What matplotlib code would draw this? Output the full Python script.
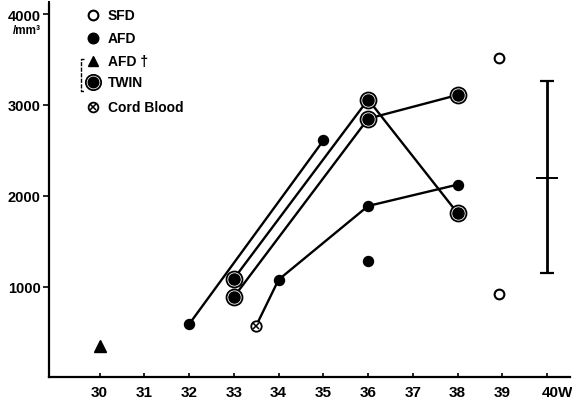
import matplotlib
matplotlib.use("Agg")
import matplotlib.pyplot as plt
from matplotlib.transforms import ScaledTranslation

# ---- data ----
twin1_weeks = [33, 36, 38]
twin1_vals = [1090, 3060, 1810]
twin2_weeks = [33, 36, 38]
twin2_vals = [890, 2850, 3110]
afd_line_weeks = [32, 35]
afd_line_vals = [590, 2610]
chain_weeks = [33.5, 34, 36, 38]          # cord blood -> AFD
chain_vals = [575, 1080, 1890, 2125]
cord_weeks = [33.5]
cord_vals = [575]
afd_single_weeks = [36]
afd_single_vals = [1290]
afd_dead_weeks = [30]
afd_dead_vals = [350]
sfd_weeks = [38.93, 38.93]
sfd_vals = [3515, 925]
range_week = 40
range_mean = 2195
range_low = 1155
range_high = 3260

x_ticks = [30, 31, 32, 33, 34, 35, 36, 37, 38, 39, 40]
x_labels = ["30", "31", "32", "33", "34", "35", "36", "37", "38", "39", "40W"]
y_ticks = [1000, 2000, 3000, 4000]
y_labels = ["1000", "2000", "3000", "4000"]
legend_labels = ["SFD", "AFD", "AFD \u2020", "TWIN", "Cord Blood"]

plt.rcParams['font.family'] = ['Liberation Sans', 'DejaVu Sans']

fig = plt.figure(figsize=(5.72, 4.02), dpi=100)
ax = fig.add_axes([49/572, 1 - 378/402, 521/572, 373/402])
ax.set_xlim(28.87, 40.51)
ax.set_ylim(10, 4110)

lw = 1.7
k = 'black'
# lines
ax.plot(afd_line_weeks, afd_line_vals, color=k, lw=lw, zorder=2)
ax.plot(chain_weeks, chain_vals, color=k, lw=lw, zorder=2)
ax.plot(twin1_weeks, twin1_vals, color=k, lw=lw, zorder=2)
ax.plot(twin2_weeks, twin2_vals, color=k, lw=lw, zorder=2)

# AFD filled circles
afd_x = afd_line_weeks + chain_weeks[1:] + afd_single_weeks
afd_y = afd_line_vals + chain_vals[1:] + afd_single_vals
ax.plot(afd_x, afd_y, 'o', ms=7.2, color=k, mec=k, zorder=4, linestyle='none')

# TWIN double circles
for wx, wy in [(twin1_weeks, twin1_vals), (twin2_weeks, twin2_vals)]:
    ax.plot(wx, wy, 'o', ms=11.5, mfc='white', mec=k, mew=1.3, zorder=5, linestyle='none')
    ax.plot(wx, wy, 'o', ms=8.0, mfc=k, mec=k, zorder=6, linestyle='none')

# cord blood
ax.plot(cord_weeks, cord_vals, 'o', ms=7.5, mfc='white', mec=k, mew=1.3, zorder=5, linestyle='none')
ax.plot(cord_weeks, cord_vals, 'x', ms=4.2, color=k, mew=1.1, zorder=6, linestyle='none')

# AFD dead
ax.plot(afd_dead_weeks, afd_dead_vals, '^', ms=8, color=k, zorder=4, linestyle='none')

# SFD open circles
ax.plot(sfd_weeks, sfd_vals, 'o', ms=7, mfc='white', mec=k, mew=1.5, zorder=4, linestyle='none')

# range bar at 40W
ax.errorbar([range_week], [range_mean],
            yerr=[[range_mean - range_low], [range_high - range_mean]],
            fmt='none', ecolor=k, elinewidth=2.0, capsize=4.8, capthick=1.6, zorder=3)
ax.plot([range_week], [range_mean], '_', ms=16, mew=1.4, color=k, zorder=3)

# axes styling
for s in ['top', 'right']:
    ax.spines[s].set_visible(False)
ax.spines['left'].set_linewidth(1.6)
ax.spines['bottom'].set_linewidth(1.6)
ax.set_xticks(x_ticks)
ax.set_xticklabels(x_labels, fontsize=11, fontweight='bold')
ax.set_yticks(y_ticks)
ax.set_yticklabels(y_labels, fontsize=10.5, fontweight='bold')
ax.tick_params(axis='x', direction='in', length=3, width=1.2, pad=6)
ax.tick_params(axis='y', direction='out', length=4.5, width=1.2, pad=1.5)
lab = ax.get_xticklabels()[-1]
lab.set_transform(lab.get_transform() + ScaledTranslation(10/100, 0, fig.dpi_scale_trans))

# small mark at top of the y axis
ax.plot([0], [1], marker='|', ms=5, mew=1.4, color=k, transform=ax.transAxes, clip_on=False)

# unit label under 4000
ax.text(-0.016, (4000 - 10) / 4100 - 0.044, "/mm\u00b3", transform=ax.transAxes,
        ha='right', va='center', fontsize=8.5, fontweight='bold')

# legend drawn by hand (axes-fraction positions)
lx, tx = 0.0845, 0.113
rows = [0.9713, 0.9088, 0.8480, 0.7901, 0.7247]
common = dict(transform=ax.transAxes, clip_on=False, linestyle='none')
ax.plot([lx], [rows[0]], 'o', ms=7, mfc='white', mec=k, mew=1.5, **common)
ax.plot([lx], [rows[1]], 'o', ms=7.6, mfc=k, mec=k, **common)
ax.plot([lx], [rows[2]], '^', ms=7.5, color=k, **common)
ax.plot([lx], [rows[3]], 'o', ms=11, mfc='white', mec=k, mew=1.3, **common)
ax.plot([lx], [rows[3]], 'o', ms=7.6, mfc=k, mec=k, **common)
ax.plot([lx], [rows[4]], 'o', ms=7, mfc='white', mec=k, mew=1.3, **common)
ax.plot([lx], [rows[4]], 'x', ms=4, color=k, mew=1.1, **common)
for r, t in zip(rows, legend_labels):
    ax.text(tx, r, t, transform=ax.transAxes, ha='left', va='center',
            fontsize=10, fontweight='bold')
# bracket joining AFD † and TWIN
ax.plot([0.068, 0.062, 0.062, 0.068], [0.8525, 0.8525, 0.7668, 0.7668],
        transform=ax.transAxes, clip_on=False, color=k, lw=1.0, ls=(0, (3, 1)))

fig.savefig("out.png", dpi=100)
